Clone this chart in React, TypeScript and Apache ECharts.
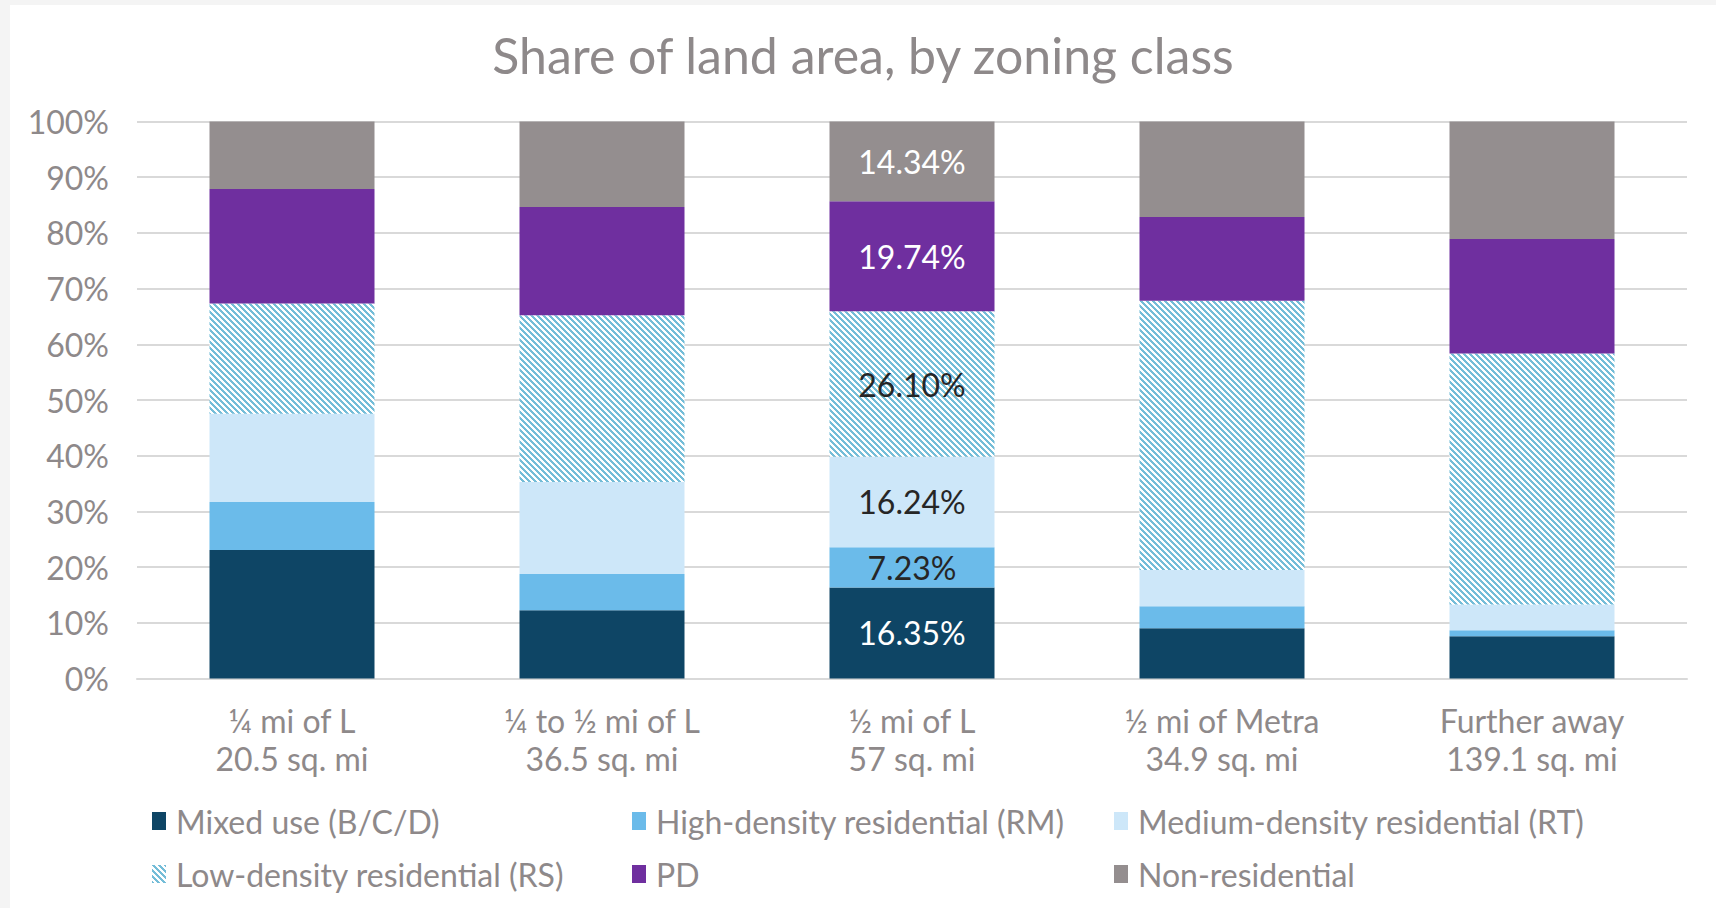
import React, { useEffect, useRef } from "react";
import * as echarts from "echarts";

const categories = [
  "¼ mi of L\n20.5 sq. mi",
  "¼ to ½ mi of L\n36.5 sq. mi",
  "½ mi of L\n57 sq. mi",
  "½ mi of Metra\n34.9 sq. mi",
  "Further away\n139.1 sq. mi",
];

const seriesNames = [
  "Mixed use (B/C/D)",
  "High-density residential (RM)",
  "Medium-density residential (RT)",
  "Low-density residential (RS)",
  "PD",
  "Non-residential",
];

const mixedUse = [23.09, 12.27, 16.35, 9.03, 7.58];
const highDensity = [8.61, 6.48, 7.23, 3.93, 1.1];
const mediumDensity = [15.85, 16.54, 16.24, 6.54, 4.62];
const lowDensity = [19.78, 29.91, 26.1, 48.32, 45.07];
const pd = [20.54, 19.43, 19.74, 15.02, 20.54];
const nonResidential = [12.13, 15.37, 14.34, 17.16, 21.09];

const yTicks = [0, 10, 20, 30, 40, 50, 60, 70, 80, 90, 100];
const labelledCategory = 2;

const FONT = "Lato, 'Noto Sans', sans-serif";
const GREY_TEXT = "#8E898A";

export default function App() {
  const ref = useRef<HTMLDivElement>(null);

  useEffect(() => {
    if (!ref.current) return;
    const P = 6;
    const canvas = document.createElement("canvas");
    canvas.width = P;
    canvas.height = P;
    const ctx = canvas.getContext("2d")!;
    ctx.fillStyle = "#ffffff";
    ctx.fillRect(0, 0, P, P);
    ctx.fillStyle = "#74BDD8";
    for (let y = 0; y < P; y++) {
      for (let x = 0; x < P; x++) {
        if ((((x - y) % P) + P) % P < 3) ctx.fillRect(x, y, 1, 1);
      }
    }
    const hatch: any = {
      image: canvas.toDataURL(),
      repeat: "repeat",
      imageWidth: P,
      imageHeight: P,
    };

    const values = [mixedUse, highDensity, mediumDensity, lowDensity, pd, nonResidential];
    const colors: any[] = ["#0E4565", "#6BBBEA", "#CDE7F9", hatch, "#6F2F9F", "#948E8F"];
    const labelColors = ["#ffffff", "#262626", "#262626", "#262626", "#ffffff", "#ffffff"];

    const series = seriesNames.map((name, si) => ({
      name,
      type: "bar",
      stack: "total",
      barWidth: 165,
      itemStyle: { color: colors[si] },
      emphasis: { disabled: true },
      label: {
        show: false,
        position: "inside",
        color: labelColors[si],
        fontSize: 32,
        fontFamily: FONT,
        formatter: (p: any) => Number(p.value).toFixed(2) + "%",
      },
      data: values[si].map((v, i) =>
        i === labelledCategory ? { value: v, label: { show: true } } : v
      ),
    }));

    const legendPos = [
      { left: 137, top: 793 },
      { left: 617, top: 793 },
      { left: 1099, top: 793 },
      { left: 137, top: 846 },
      { left: 617, top: 846 },
      { left: 1099, top: 846 },
    ];

    const legend = seriesNames.map((name, i) => ({
      data: [name],
      left: legendPos[i].left,
      top: legendPos[i].top,
      icon: "rect",
      itemWidth: 14,
      itemHeight: 18,
      selectedMode: false,
      textStyle: {
        color: GREY_TEXT,
        fontSize: 32,
        fontFamily: FONT,
        lineHeight: 36,
        padding: [0, 0, 0, 5],
      },
    }));

    const chart = echarts.init(ref.current, null, { renderer: "svg" });
    chart.setOption({
      animation: false,
      backgroundColor: "#ffffff",
      title: {
        text: "Share of land area, by zoning class",
        left: "center",
        top: 15,
        textStyle: {
          color: GREY_TEXT,
          fontSize: 50,
          fontWeight: "normal",
          fontFamily: FONT,
          lineHeight: 60,
        },
      },
      legend,
      grid: { left: 127, right: 29, top: 116.5, bottom: 229.5, containLabel: false },
      xAxis: {
        type: "category",
        data: categories,
        axisTick: { show: false },
        axisLine: { lineStyle: { color: "#D9D9D9", width: 2 } },
        axisLabel: {
          color: GREY_TEXT,
          fontSize: 32,
          fontFamily: FONT,
          lineHeight: 38,
          margin: 23,
          interval: 0,
        },
      },
      yAxis: {
        type: "value",
        min: yTicks[0],
        max: yTicks[yTicks.length - 1],
        interval: yTicks[1] - yTicks[0],
        axisLine: { show: false },
        axisTick: { show: false },
        splitLine: { lineStyle: { color: "#D9D9D9", width: 2 } },
        axisLabel: {
          color: GREY_TEXT,
          fontSize: 32,
          fontFamily: FONT,
          margin: 28,
          formatter: "{value}%",
        },
      },
      series,
    });

    return () => chart.dispose();
  }, []);

  return (
    <div
      style={{
        position: "fixed",
        left: 0,
        top: 0,
        width: 1716,
        height: 908,
        background: "#F4F4F4",
      }}
    >
      <div
        ref={ref}
        style={{ position: "absolute", left: 10, top: 5, width: 1706, height: 903 }}
      />
    </div>
  );
}
